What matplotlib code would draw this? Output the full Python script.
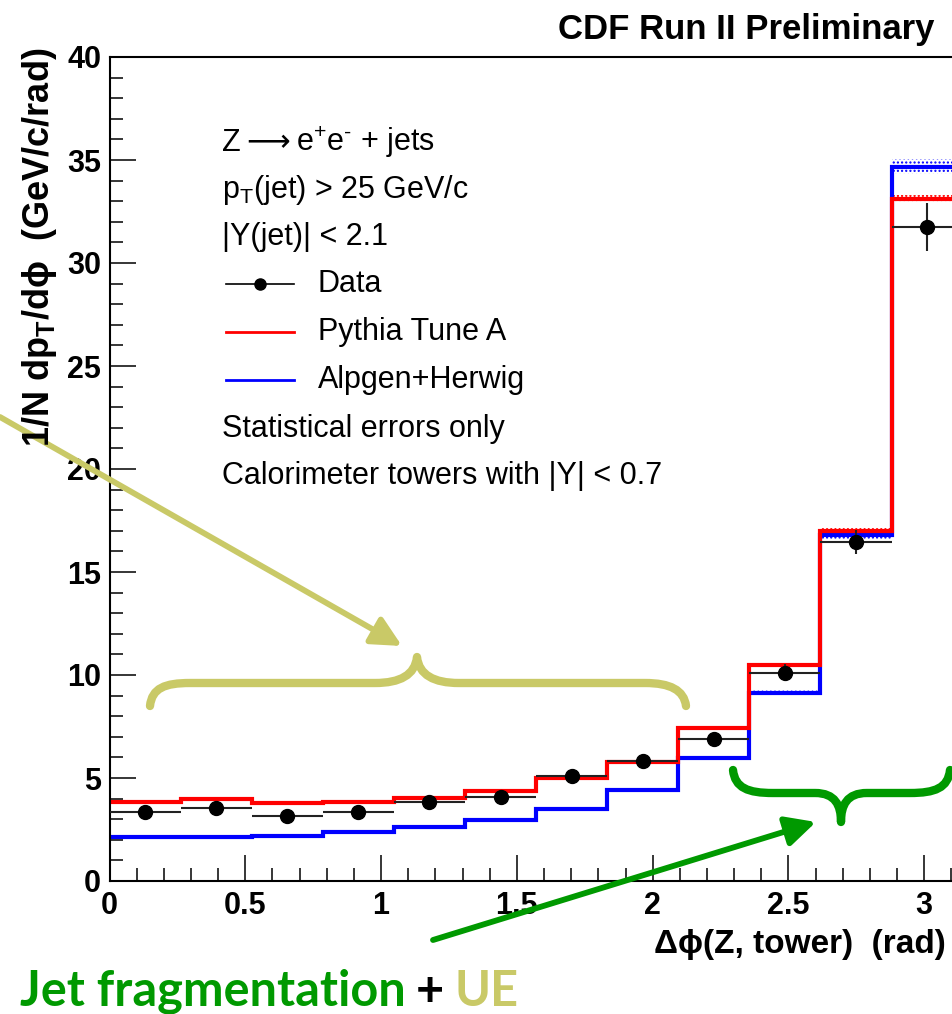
import numpy as np
import matplotlib
matplotlib.use("Agg")
import matplotlib.pyplot as plt
from matplotlib.path import Path
from matplotlib.patches import PathPatch, FancyArrowPatch
from matplotlib.lines import Line2D
from matplotlib.ticker import MultipleLocator

plt.rcParams['mathtext.fontset'] = 'custom'
plt.rcParams['mathtext.rm'] = 'Liberation Sans'
plt.rcParams['mathtext.it'] = 'Liberation Sans:italic'
plt.rcParams['mathtext.bf'] = 'Liberation Sans:bold'

# ---------------- data ----------------
n_bins = 12
bin_edges = np.linspace(0, np.pi, n_bins + 1)
data_vals = [3.36, 3.56, 3.17, 3.36, 3.82, 4.09, 5.11, 5.83, 6.88, 10.11, 16.47, 31.76]
data_errs = [0.08, 0.08, 0.08, 0.08, 0.10, 0.11, 0.13, 0.15, 0.22, 0.40, 0.58, 1.17]
pythia_vals = [3.85, 3.96, 3.77, 3.85, 4.01, 4.38, 5.01, 5.79, 7.44, 10.49, 16.99, 33.09]
pythia_errs = [0.04, 0.04, 0.04, 0.04, 0.05, 0.05, 0.06, 0.07, 0.08, 0.10, 0.15, 0.20]
alpgen_vals = [2.12, 2.12, 2.20, 2.36, 2.64, 2.96, 3.48, 4.42, 5.96, 9.14, 16.80, 34.68]
alpgen_errs = [0.04, 0.04, 0.04, 0.05, 0.05, 0.06, 0.07, 0.08, 0.09, 0.12, 0.18, 0.35]
x_ticks = [0, 0.5, 1, 1.5, 2, 2.5, 3]
x_ticklabels = ["0", "0.5", "1", "1.5", "2", "2.5", "3"]
y_ticks = [0, 5, 10, 15, 20, 25, 30, 35, 40]

W, H = 952, 1014
fig = plt.figure(figsize=(W / 100, H / 100), dpi=100)

def fx(px):
    return px / W

def fy(py):
    return 1 - py / H

# axes: x=0 at px 109.5, x=pi at px 962.7 (beyond the picture), y=0 at 881, y=40 at 57
ax = fig.add_axes([fx(109.5), fy(881), (962.7 - 109.5) / W, (881 - 57) / H])
ax.set_xlim(0, np.pi)
ax.set_ylim(0, 40)

bold = dict(family=['Liberation Sans', 'DejaVu Sans'], weight='bold')
edges = np.array(bin_edges)
centers = 0.5 * (edges[:-1] + edges[1:])
halfw = 0.5 * np.diff(edges)

def band(vals, errs, color):
    v = np.array(vals)
    e = np.array(errs)
    lo = np.append(v - e, (v - e)[-1])
    hi = np.append(v + e, (v + e)[-1])
    ax.fill_between(edges, lo, hi, step='post', facecolor='none',
                    edgecolor=color, hatch='....', linewidth=0)

band(alpgen_vals, alpgen_errs, '#0000ff')
band(pythia_vals, pythia_errs, '#ff0000')
ax.stairs(alpgen_vals, edges, color='#0000ff', linewidth=3, baseline=None)
ax.stairs(pythia_vals, edges, color='#ff0000', linewidth=3, baseline=None)
ax.errorbar(centers, data_vals, xerr=halfw, yerr=data_errs, fmt='o', color='black',
            ecolor='#222222', elinewidth=1.5, markersize=10, capsize=0, zorder=5)

# ticks
ax.set_xticks(x_ticks)
ax.set_xticklabels(x_ticklabels)
ax.set_yticks(y_ticks)
ax.xaxis.set_minor_locator(MultipleLocator(0.1))
ax.yaxis.set_minor_locator(MultipleLocator(1))
ax.tick_params(which='major', direction='in', length=19, width=1.1, pad=7)
ax.tick_params(which='minor', direction='in', length=9.5, width=1.1)
ax.tick_params(axis='y', which='major', pad=6)
for lab in ax.get_xticklabels() + ax.get_yticklabels():
    lab.set_fontsize(22)
    lab.set_fontfamily(['Liberation Sans', 'DejaVu Sans'])
    lab.set_fontweight('bold')
for s in ax.spines.values():
    s.set_linewidth(1.5)

# axis titles
fig.text(fx(40), fy(48), r'1/N dp$_\mathbf{T}$/dϕ  (GeV/c/rad)', rotation=90,
         ha='center', va='top', fontsize=26, **bold)
fig.text(fx(946), fy(944), r'Δϕ(Z, tower)  (rad)', ha='right', va='center',
         fontsize=24, **bold)
fig.text(fx(935), fy(29), 'CDF Run II Preliminary', ha='right', va='center',
         fontsize=25, **bold)

fig.canvas.draw()
r = fig.canvas.get_renderer()

# legend block
reg = dict(family=['Liberation Sans', 'DejaVu Sans'], fontsize=22, va='baseline', ha='left')
base_dy = 8
tz = fig.text(fx(222), fy(143 + base_dy), 'Z', **reg)
bz = tz.get_window_extent(renderer=r)
ta = fig.text(bz.x1 / W + fx(6), fy(143 + base_dy), '⟶',
              **dict(reg, family=['DejaVu Sans']))
ba = ta.get_window_extent(renderer=r)
fig.text(ba.x1 / W + fx(6), fy(143 + base_dy), 'e$^{+}$e$^{\u2010}$ + jets', **reg)
fig.text(fx(222), fy(190 + base_dy), r'p$_{\mathrm{T}}$(jet) > 25 GeV/c', **reg)
fig.text(fx(222), fy(237 + base_dy), '|Y(jet)| < 2.1', **reg)
fig.text(fx(318), fy(284 + base_dy), 'Data', **reg)
fig.text(fx(318), fy(332 + base_dy), 'Pythia Tune A', **reg)
fig.text(fx(318), fy(380 + base_dy), 'Alpgen+Herwig', **reg)
fig.text(fx(222), fy(429 + base_dy), 'Statistical errors only', **reg)
fig.text(fx(222), fy(476 + base_dy), 'Calorimeter towers with |Y| < 0.7', **reg)
fig.add_artist(Line2D([fx(226), fx(294)], [fy(284), fy(284)], color='black', lw=1.2,
                      transform=fig.transFigure))
fig.add_artist(Line2D([fx(260)], [fy(284)], color='black', marker='o', markersize=8,
                      transform=fig.transFigure))
fig.add_artist(Line2D([fx(226), fx(294)], [fy(332), fy(332)], color='#ff0000', lw=2,
                      transform=fig.transFigure))
fig.add_artist(Line2D([fx(226), fx(294)], [fy(380), fy(380)], color='#0000ff', lw=2,
                      transform=fig.transFigure))

# annotations
olive = '#C9C967'
green = '#009900'

def brace(pts, codes, color):
    verts = [(fx(x), fy(y)) for x, y in pts]
    p = Path(verts, codes)
    fig.add_artist(PathPatch(p, facecolor='none', edgecolor=color, lw=6,
                             capstyle='round', joinstyle='round',
                             transform=fig.transFigure))

M, C, L = Path.MOVETO, Path.CURVE4, Path.LINETO
olive_pts = [(150, 706), (152, 688), (165, 683), (190, 683), (375, 683),
             (400, 683), (415, 675), (417, 657), (419, 675), (434, 683), (459, 683),
             (645, 683), (670, 683), (684, 690), (686, 706)]
brace_codes = [M, C, C, C, L, C, C, C, C, C, C, L, C, C, C]
brace(olive_pts, brace_codes, olive)

green_pts = [(733, 770), (735, 788), (748, 793), (773, 793), (815, 793),
             (835, 793), (841, 805), (841, 822), (841, 805), (847, 793), (867, 793),
             (910, 793), (935, 793), (948, 788), (950, 770)]
brace(green_pts, brace_codes, green)

def arrow(p0, p1, color):
    a = FancyArrowPatch((fx(p0[0]), fy(p0[1])), (fx(p1[0]), fy(p1[1])),
                        transform=fig.transFigure,
                        arrowstyle='-|>,head_length=18,head_width=9',
                        mutation_scale=1, color=color, lw=4.2, shrinkA=0, shrinkB=0)
    fig.add_artist(a)

arrow((0, 417), (402, 646), olive)
arrow((433, 940), (816, 822), green)

# bottom caption
cap = dict(fontsize=35, family=['Lato', 'DejaVu Sans'], weight='bold', ha='left', va='center')
t1 = fig.text(fx(20), fy(991), 'Jet fragmentation', color=green, **cap)
bb = t1.get_window_extent(renderer=r)
t2 = fig.text(bb.x1 / W + fx(10), fy(991), '+', color='black', **cap)
bb2 = t2.get_window_extent(renderer=r)
fig.text(bb2.x1 / W + fx(10), fy(991), 'UE', color=olive, **cap)

fig.savefig('out.png', dpi=100)
